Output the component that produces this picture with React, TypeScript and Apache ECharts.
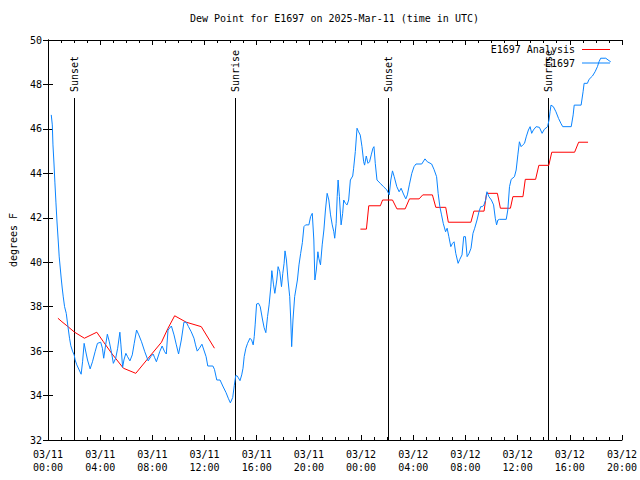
import React, { useEffect, useRef } from "react";
import * as echarts from "echarts";

// Hours since 2025-03-11 00:00 UTC
const obsHours = [
  0.25, 0.33, 0.38, 0.46, 0.53, 0.61, 0.69, 0.79, 0.86, 0.94, 1.01, 1.09, 1.17, 1.27, 1.4, 1.53, 1.65, 1.75, 1.88, 2.01,
  2.08, 2.21, 2.39, 2.54, 2.65, 2.77, 2.87, 3.03, 3.23, 3.41, 3.61, 3.79, 4.04, 4.17, 4.27, 4.42, 4.55, 4.7, 4.88, 5.01,
  5.19, 5.34, 5.51, 5.59, 5.72, 5.82, 5.97, 6.1, 6.28, 6.46, 6.61, 6.79, 6.96, 7.17, 7.42, 7.68, 7.88, 8.06, 8.18, 8.31,
  8.56, 8.75, 8.94, 9.07, 9.2, 9.46, 9.66, 9.84, 10.01, 10.22, 10.42, 10.6, 10.77, 10.98, 11.19, 11.31, 11.44, 11.61, 11.8, 11.95,
  12.12, 12.25, 12.64, 12.76, 12.94, 13.19, 13.4, 13.65, 13.82, 13.98, 14.16, 14.28, 14.39, 14.51, 14.59, 14.72, 14.85, 14.95, 15.04, 15.17,
  15.3, 15.48, 15.61, 15.73, 15.81, 15.88, 15.99, 16.14, 16.27, 16.45, 16.57, 16.7, 16.83, 16.95, 17.08, 17.16, 17.29, 17.39, 17.54, 17.64,
  17.77, 17.9, 18.0, 18.1, 18.17, 18.28, 18.4, 18.53, 18.61, 18.68, 18.78, 18.91, 19.12, 19.24, 19.37, 19.5, 19.62, 19.75, 20.0, 20.13,
  20.26, 20.38, 20.46, 20.57, 20.69, 20.76, 20.89, 21.02, 21.15, 21.27, 21.4, 21.53, 21.66, 21.79, 21.91, 21.98, 22.09, 22.17, 22.24, 22.34,
  22.47, 22.59, 22.67, 22.8, 22.93, 23.05, 23.18, 23.36, 23.43, 23.56, 23.69, 23.81, 23.94, 24.07, 24.2, 24.27, 24.4, 24.53, 24.65, 24.78,
  24.91, 24.99, 25.09, 25.22, 25.47, 25.72, 25.98, 26.16, 26.28, 26.41, 26.54, 26.74, 26.92, 27.07, 27.25, 27.43, 27.55, 27.7, 27.89, 28.06,
  28.21, 28.65, 28.9, 29.08, 29.41, 29.59, 29.79, 29.91, 30.04, 30.17, 30.3, 30.48, 30.6, 30.73, 30.88, 31.01, 31.13, 31.26, 31.44, 31.57,
  31.74, 31.87, 32.0, 32.13, 32.28, 32.43, 32.58, 32.71, 32.89, 33.04, 33.17, 33.3, 33.42, 33.55, 33.65, 33.8, 33.99, 34.16, 34.29, 34.39,
  34.49, 34.62, 35.13, 35.25, 35.38, 35.51, 35.76, 35.89, 36.02, 36.14, 36.27, 36.4, 36.53, 36.66, 36.83, 36.96, 37.08, 37.21, 37.42, 37.67,
  37.88, 38.05, 38.3, 38.41, 38.49, 38.56, 38.74, 38.94, 39.14, 39.32, 39.46, 40.11, 40.26, 40.34, 40.87, 41.02, 41.1, 41.35, 41.48, 41.74,
  41.94, 42.12, 42.24, 42.37, 42.76, 43.01, 43.14,
];
const obsDew = [
  46.63, 46.18, 45.28, 44.42, 43.57, 42.67, 41.81, 40.91, 40.24, 39.74, 39.29, 38.84, 38.44, 38.0, 37.7, 37.1, 36.58, 36.24, 36.0, 35.82,
  35.6, 35.38, 35.15, 34.96, 35.52, 36.35, 36.05, 35.6, 35.2, 35.52, 35.97, 36.35, 36.4, 36.13, 35.68, 36.28, 36.76, 36.42, 35.9, 35.45,
  35.68, 36.13, 36.85, 36.28, 35.27, 35.6, 35.9, 35.75, 35.56, 35.83, 36.35, 36.95, 36.73, 36.42, 35.97, 35.56, 35.75, 35.87, 35.7, 35.52,
  35.97, 36.23, 35.97, 35.87, 36.95, 37.13, 36.73, 36.28, 35.87, 36.5, 37.3, 37.3, 37.1, 36.87, 36.58, 36.28, 36.0, 36.13, 36.31, 36.05,
  35.75, 35.33, 35.33, 35.18, 34.7, 34.7, 34.43, 34.13, 33.88, 33.67, 33.91, 34.45, 34.9, 34.88, 34.8, 34.67, 34.93, 35.23, 35.75, 36.13,
  36.35, 36.58, 36.5, 36.28, 36.65, 37.18, 38.12, 38.15, 38.0, 37.4, 37.05, 36.83, 37.55, 38.08, 38.89, 39.62, 38.98, 38.6, 39.2, 39.8,
  39.57, 38.9, 39.5, 39.95, 40.51, 40.1, 39.2, 38.45, 37.4, 36.2, 37.4, 38.45, 39.2, 39.88, 40.4, 40.88, 41.6, 41.68, 41.68, 42.05,
  42.2, 41.0, 39.2, 39.65, 40.47, 40.18, 39.88, 40.78, 41.45, 42.35, 43.1, 42.8, 42.13, 41.68, 41.37, 41.08, 41.75, 42.95, 43.7, 42.95,
  41.68, 42.2, 42.8, 42.65, 42.58, 42.8, 43.7, 43.88, 44.23, 44.98, 46.03, 45.87, 45.72, 45.2, 44.52, 44.37, 44.78, 44.45, 44.52, 44.83,
  45.13, 45.2, 44.45, 43.7, 43.55, 43.4, 43.25, 43.03, 43.7, 44.11, 43.85, 43.4, 43.17, 43.33, 43.07, 42.85, 43.03, 43.48, 44.0, 44.3,
  44.42, 44.42, 44.65, 44.52, 44.42, 44.18, 43.85, 43.1, 42.5, 42.13, 41.75, 41.37, 41.53, 41.15, 40.7, 40.85, 40.92, 40.4, 39.95, 40.13,
  40.33, 41.15, 41.15, 40.25, 40.4, 40.63, 41.3, 41.53, 41.9, 42.27, 42.5, 42.5, 42.58, 42.8, 43.17, 42.95, 42.8, 42.58, 41.98, 41.68,
  41.9, 41.93, 41.93, 42.35, 43.4, 43.73, 43.85, 44.15, 44.83, 45.42, 45.2, 45.28, 45.35, 45.64, 45.95, 46.1, 45.8, 45.95, 46.1, 46.07,
  45.8, 45.98, 46.1, 46.4, 46.77, 47.07, 47.0, 46.77, 46.47, 46.25, 46.1, 46.1, 46.63, 47.07, 47.07, 47.67, 48.05, 48.05, 48.23, 48.38,
  48.57, 48.8, 49.02, 49.18, 49.18, 49.07, 49.02,
];

const ana1Hours = [0.76, 1.07, 1.45, 2.04, 2.79, 3.74, 4.25, 4.88, 5.78, 6.73, 7.68, 8.7, 9.2, 9.71, 10.6, 11.75, 12.76];
const ana1Dew = [37.48, 37.32, 37.14, 36.85, 36.58, 36.85, 36.42, 35.9, 35.23, 35.0, 35.68, 36.4, 37.03, 37.59, 37.3, 37.1, 36.13];

const ana2Hours = [
  23.95, 24.41, 24.59, 25.48, 25.65, 26.41, 26.75, 27.38, 27.71, 28.45, 28.73, 29.47, 29.73, 30.49, 30.69, 32.42,
  32.65, 33.43, 33.62, 34.45, 34.68, 35.45, 35.64, 36.41, 36.59, 37.38, 37.63, 38.39, 38.62, 40.37, 40.68, 41.4,
];
const ana2Dew = [
  41.49, 41.49, 42.54, 42.54, 42.8, 42.8, 42.4, 42.4, 42.85, 42.85, 43.03, 43.03, 42.47, 42.47, 41.8, 41.8,
  42.3, 42.3, 43.1, 43.1, 42.43, 42.43, 42.95, 42.95, 43.73, 43.73, 44.36, 44.36, 44.95, 44.95, 45.4, 45.4,
];

const sunHours = [2.03, 14.37, 26.04, 38.32];
const sunLabels = ["Sunset", "Sunrise", "Sunset", "Sunrise"];

const yTicks = [32, 34, 36, 38, 40, 42, 44, 46, 48, 50];

const FONT = "DejaVu Sans Mono";
const BASE = Date.UTC(2025, 2, 11);

function fmtX(h: number) {
  const d = new Date(BASE + h * 3600000);
  const p = (n: number) => String(n).padStart(2, "0");
  return `${p(d.getUTCMonth() + 1)}/${p(d.getUTCDate())}\n${p(d.getUTCHours())}:${p(d.getUTCMinutes())}`;
}

export default function App() {
  const ref = useRef<HTMLDivElement>(null);
  useEffect(() => {
    if (!ref.current) return;
    const chart = echarts.init(ref.current, null, { renderer: "svg" });
    const obsData = obsHours.map((h, i) => [h, obsDew[i]]);
    const anaData = [
      ...ana1Hours.map((h, i) => [h, ana1Dew[i]]),
      [18, "-"],
      ...ana2Hours.map((h, i) => [h, ana2Dew[i]]),
    ];
    const yMin = yTicks[0];
    const yMax = yTicks[yTicks.length - 1];
    const axisCommon = {
      axisLine: { show: true, lineStyle: { color: "#000", width: 1 } },
      splitLine: { show: false },
    };
    chart.setOption({
      animation: false,
      backgroundColor: "#fff",
      title: {
        text: "Dew Point for E1697 on 2025-Mar-11 (time in UTC)",
        left: 190,
        top: 13,
        padding: 0,
        textStyle: { fontFamily: FONT, fontSize: 10, fontWeight: "normal", color: "#000" },
      },
      legend: {
        orient: "vertical",
        align: "right",
        right: 30,
        top: 43,
        padding: 0,
        itemGap: 0.5,
        itemWidth: 28,
        itemHeight: 1,
        icon: "rect",
        textStyle: { fontFamily: FONT, fontSize: 10, color: "#000", lineHeight: 13, padding: [0, 2, 0, 0] },
        data: ["E1697 Analysis", "E1697"],
      },
      grid: { left: 46, right: 17, top: 40, bottom: 40, containLabel: false },
      xAxis: [
        {
          type: "value",
          min: 0,
          max: 44,
          interval: 4,
          position: "bottom",
          ...axisCommon,
          axisTick: { show: true, inside: true, length: 5, lineStyle: { color: "#000" } },
          minorTick: { show: true, splitNumber: 4, length: 3, lineStyle: { color: "#000" } },
          axisLabel: {
            formatter: (v: number) => fmtX(v),
            fontFamily: FONT,
            fontSize: 10,
            color: "#000",
            lineHeight: 13,
            margin: 8,
          },
        },
        {
          type: "value",
          min: 0,
          max: 44,
          interval: 4,
          position: "top",
          ...axisCommon,
          axisTick: { show: true, inside: true, length: 5, lineStyle: { color: "#000" } },
          minorTick: { show: true, splitNumber: 4, length: 3, lineStyle: { color: "#000" } },
          axisLabel: { show: false },
        },
      ],
      yAxis: [
        {
          type: "value",
          min: yMin,
          max: yMax,
          interval: 2,
          position: "left",
          name: "degrees F",
          nameLocation: "middle",
          nameGap: 30,
          nameTextStyle: { fontFamily: FONT, fontSize: 10, color: "#000" },
          ...axisCommon,
          axisTick: { show: true, inside: true, length: 5, lineStyle: { color: "#000" } },
          axisLabel: { fontFamily: FONT, fontSize: 10, color: "#000", margin: 6 },
        },
        {
          type: "value",
          min: yMin,
          max: yMax,
          interval: 2,
          position: "right",
          ...axisCommon,
          axisTick: { show: true, inside: true, length: 5, lineStyle: { color: "#000" } },
          axisLabel: { show: false },
        },
      ],
      series: [
        {
          type: "custom",
          name: "sun",
          silent: true,
          clip: false,
          xAxisIndex: 0,
          yAxisIndex: 0,
          data: sunHours.map((h) => [h, yMin]),
          renderItem: (params: any, api: any) => {
            const h = api.value(0);
            const bottom = api.coord([h, yMin]);
            const top = api.coord([h, yMax]);
            const x = Math.round(bottom[0]) + 0.5;
            return {
              type: "group",
              children: [
                {
                  type: "line",
                  shape: { x1: x, y1: top[1] + 58, x2: x, y2: bottom[1] },
                  style: { stroke: "#000", lineWidth: 1 },
                },
                {
                  type: "text",
                  x: x,
                  y: top[1] + 52,
                  rotation: Math.PI / 2,
                  style: {
                    text: sunLabels[params.dataIndex],
                    font: `10px "${FONT}"`,
                    fill: "#000",
                    align: "left",
                    verticalAlign: "middle",
                  },
                },
              ],
            };
          },
        },
        {
          type: "line",
          name: "E1697 Analysis",
          data: anaData,
          showSymbol: false,
          connectNulls: false,
          color: "#ff0000",
          lineStyle: { color: "#ff0000", width: 1 },
        },
        {
          type: "line",
          name: "E1697",
          data: obsData,
          showSymbol: false,
          color: "#0a84ff",
          lineStyle: { color: "#0a84ff", width: 1 },
        },
      ],
    });
    return () => chart.dispose();
  }, []);
  return (
    <div
      ref={ref}
      style={{ position: "fixed", left: 0, top: 0, width: 640, height: 480, background: "#fff" }}
    />
  );
}
